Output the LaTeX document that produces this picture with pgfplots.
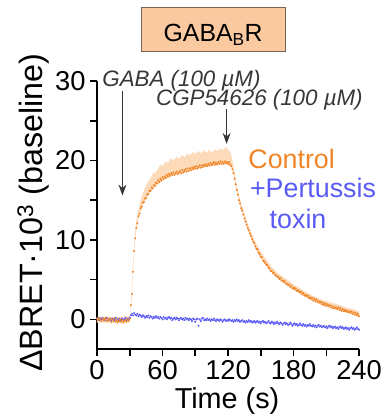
\documentclass[border=0pt]{standalone}
\usepackage{fontspec}
\setmainfont{Liberation Sans}
\usepackage{pgfplots}
\usepackage{pgfplotstable}
\pgfplotsset{compat=1.18}
\usepgfplotslibrary{fillbetween}
\usetikzlibrary{arrows.meta}
\definecolor{orangec}{RGB}{241,133,38}
\definecolor{bluec}{RGB}{90,90,245}
\definecolor{bandc}{RGB}{252,218,186}
\definecolor{titlefill}{RGB}{250,201,160}
\definecolor{titleborder}{RGB}{120,100,85}
\definecolor{annot}{RGB}{55,55,55}
\pgfplotstableread{
t lo hi
0 -0.4 0.3
15 -0.4 0.3
30 -0.3 0.4
31 1.5 2.3
32 2.9 3.9
33 5.7 6.8
34 8.3 9.4
35 10.0 11.1
36 11.2 12.4
37 11.9 13.2
38 12.6 13.9
40 13.6 15.0
42 14.4 15.9
44 15.0 16.6
46 15.5 17.1
48 15.9 17.6
50 16.3 18.0
52 16.6 18.6
53 16.7 18.3
56 17.1 19.0
58 17.3 19.5
60 17.5 19.3
63 17.7 19.9
65 17.8 19.7
68 18.0 20.3
70 18.1 20.0
73 18.2 20.5
75 18.3 20.2
78 18.4 20.7
80 18.5 20.4
83 18.6 20.9
85 18.7 20.6
88 18.8 21.1
90 18.9 20.8
93 19.0 21.2
95 19.1 20.9
98 19.2 21.3
100 19.2 21.0
103 19.3 21.3
105 19.3 21.0
108 19.4 21.4
110 19.4 21.2
113 19.5 21.5
115 19.5 21.3
118 19.5 21.7
120 19.4 21.4
122 19.3 21.1
123 19.1 20.7
124 18.7 20.0
125 18.2 19.2
126 17.5 18.4
127 16.8 17.6
128 16.1 16.9
130 14.8 15.6
132 13.8 14.6
134 13.0 13.8
136 12.1 12.9
138 11.3 12.1
140 10.6 11.4
143 9.6 10.4
146 8.7 9.5
150 7.7 8.5
154 6.9 7.7
160 5.9 6.6
166 5.1 5.8
172 4.5 5.2
180 3.7 4.4
188 3.0 3.7
196 2.4 3.1
204 1.9 2.6
212 1.5 2.2
220 1.2 1.9
228 0.9 1.5
234 0.6 1.3
240 0.3 1.0
}\bandtable
\begin{document}
\begin{tikzpicture}
\begin{axis}[
  scale only axis, width=264pt, height=269.6pt,
  xmin=0, xmax=240, ymin=-3.7, ymax=30,
  axis x line*=bottom, axis y line*=left,
  axis line style={line width=1.8pt,-},
  xtick={0,60,120,180,240}, xticklabels={0,60,120,180,240},
  minor xtick={30,90,150,210},
  ytick={0,10,20,30}, yticklabels={0,10,20,30},
  minor ytick={5,15,25},
  tick align=outside, major tick length=7pt, minor tick length=7pt,
  every tick/.style={black, line width=1.6pt},
  tick label style={font=\fontsize{27.5}{30}\selectfont},
  xticklabel style={yshift=-1pt},
  yticklabel style={xshift=-1pt},
  clip=false,
]
\addplot[name path=hi, draw=none] table[x=t, y=hi] {\bandtable};
\addplot[name path=lo, draw=none] table[x=t, y=lo] {\bandtable};
\addplot[bandc, draw=none] fill between[of=hi and lo];
% Pertussis toxin
\addplot[only marks, mark=*, mark size=0.8pt, color=bluec] coordinates {
(0,0.1)(1,0.2)(2,-0.1)(3,0.1)(4,0.0)(5,0.2)(6,0.0)(7,-0.1)(8,0.1)(9,0.2)
(10,-0.1)(11,0.0)(12,0.1)(13,-0.2)(14,0.1)(15,0.0)(16,-0.1)(17,0.2)(18,0.0)(19,-0.1)
(20,0.1)(21,-0.2)(22,0.0)(23,0.1)(24,-0.1)(25,0.0)(26,0.2)(27,-0.1)(28,0.1)(29,0.0)
(30,0.2)(31,0.5)(32,0.7)(33,0.5)(34,0.8)(35,0.6)(36,0.5)(37,0.7)(38,0.4)(39,0.6)
(40,0.5)(41,0.3)(42,0.5)(43,0.4)(44,0.2)(45,0.4)(46,0.3)(47,0.5)(48,0.2)(49,0.4)
(50,0.3)(51,0.1)(52,0.3)(53,0.2)(54,0.4)(55,0.2)(56,0.3)(57,0.1)(58,0.3)(59,0.2)
(60,0.0)(61,0.3)(62,0.1)(63,0.2)(64,0.0)(65,0.2)(66,0.3)(67,0.1)(68,0.2)(69,-0.1)
(70,0.1)(71,0.2)(72,0.0)(73,0.2)(74,0.1)(75,-0.1)(76,0.1)(77,0.2)(78,0.0)(79,0.1)
(80,-0.1)(81,0.2)(82,0.0)(83,0.1)(84,-0.1)(85,0.1)(86,0.0)(87,-0.2)(88,0.1)(89,0.0)
(90,-0.3)(91,0.0)(92,0.1)(93,-0.8)(94,0.0)(95,-0.2)(96,0.1)(97,0.2)(98,-0.1)(99,0.0)
(100,-0.1)(101,0.1)(102,-0.1)(103,0.0)(104,-0.2)(105,0.0)(106,-0.1)(107,0.1)(108,-0.1)(109,-0.2)
(110,0.0)(111,-0.1)(112,-0.2)(113,0.0)(114,-0.1)(115,-0.3)(116,-0.1)(117,0.0)(118,-0.2)(119,-0.1)
(120,-0.2)(121,0.0)(122,-0.1)(123,-0.2)(124,-0.1)(125,-0.3)(126,-0.1)(127,-0.2)(128,0.0)(129,-0.2)
(130,-0.1)(131,-0.3)(132,-0.2)(133,-0.1)(134,-0.3)(135,-0.2)(136,-0.4)(137,-0.2)(138,-0.3)(139,-0.1)
(140,-0.3)(141,-0.2)(142,-0.4)(143,-0.3)(144,-0.2)(145,-0.4)(146,-0.3)(147,-0.2)(148,-0.4)(149,-0.3)
(150,-0.5)(151,-0.3)(152,-0.2)(153,-0.4)(154,-0.3)(155,-0.5)(156,-0.4)(157,-0.2)(158,-0.4)(159,-0.5)
(160,-0.3)(161,-0.4)(162,-0.6)(163,-0.4)(164,-0.5)(165,-0.3)(166,-0.5)(167,-0.6)(168,-0.4)(169,-0.5)
(170,-0.7)(171,-0.5)(172,-0.4)(173,-0.6)(174,-0.5)(175,-0.7)(176,-0.6)(177,-0.4)(178,-0.6)(179,-0.8)
(180,-0.6)(181,-0.5)(182,-0.7)(183,-0.6)(184,-0.8)(185,-0.7)(186,-0.5)(187,-0.7)(188,-0.8)(189,-0.6)
(190,-0.8)(191,-0.7)(192,-0.9)(193,-0.7)(194,-0.8)(195,-0.6)(196,-0.8)(197,-0.9)(198,-0.7)(199,-0.9)
(200,-0.8)(201,-1.0)(202,-0.8)(203,-0.7)(204,-0.9)(205,-0.8)(206,-1.0)(207,-0.9)(208,-0.8)(209,-1.0)
(210,-0.9)(211,-1.1)(212,-0.9)(213,-0.8)(214,-1.0)(215,-0.9)(216,-1.1)(217,-1.0)(218,-0.9)(219,-1.1)
(220,-1.0)(221,-1.2)(222,-1.0)(223,-0.9)(224,-1.1)(225,-1.0)(226,-1.2)(227,-1.1)(228,-1.0)(229,-1.2)
(230,-1.1)(231,-1.3)(232,-1.1)(233,-1.0)(234,-1.2)(235,-1.1)(236,-1.3)(237,-1.2)(238,-1.0)(239,-1.2)
(240,-1.3)
};
% Control
\addplot[only marks, mark=*, mark size=0.8pt, color=orangec] coordinates {
(0,0.1)(1,-0.1)(2,0.2)(3,0.0)(4,-0.2)(5,0.1)(6,-0.1)(7,0.0)(8,0.2)(9,-0.2)
(10,0.0)(11,-0.1)(12,0.1)(13,-0.3)(14,0.0)(15,-0.2)(16,0.1)(17,-0.3)(18,-0.1)(19,-0.4)
(20,-0.2)(21,0.0)(22,-0.3)(23,-0.1)(24,-0.4)(25,-0.2)(26,-0.1)(27,-0.3)(28,0.0)(29,-0.2)
(30,0.1)(31,1.8)(32,3.2)(33,6.0)(34,8.6)(35,10.2)(36,11.5)(37,12.1)(38,13.0)(39,13.3)
(40,14.0)(41,14.2)(42,14.7)(43,14.8)(44,15.2)(45,15.3)(46,15.7)(47,15.8)(48,16.2)(49,16.2)
(50,16.6)(51,16.5)(52,16.9)(53,16.8)(54,17.2)(55,17.1)(56,17.5)(57,17.3)(58,17.7)(59,17.5)
(60,17.9)(61,17.7)(62,18.0)(63,17.8)(64,18.2)(65,18.0)(66,18.3)(67,18.1)(68,18.4)(69,18.2)
(70,18.5)(71,18.2)(72,18.4)(73,18.6)(74,18.3)(75,18.5)(76,18.7)(77,18.4)(78,18.8)(79,18.5)
(80,18.7)(81,18.9)(82,18.6)(83,19.0)(84,18.7)(85,19.0)(86,18.8)(87,19.1)(88,18.9)(89,19.2)
(90,19.0)(91,19.3)(92,19.0)(93,19.2)(94,19.4)(95,19.1)(96,19.4)(97,19.2)(98,19.5)(99,19.3)
(100,19.5)(101,19.3)(102,19.6)(103,19.4)(104,19.7)(105,19.4)(106,19.6)(107,19.8)(108,19.5)(109,19.7)
(110,19.5)(111,19.8)(112,19.6)(113,19.9)(114,19.6)(115,19.8)(116,19.6)(117,19.9)(118,19.7)(119,19.8)
(120,19.6)(121,19.8)(122,19.5)(123,19.3)(124,18.9)(125,18.4)(126,17.7)(127,17.0)(128,16.3)(129,15.7)
(130,15.0)(131,14.6)(132,14.0)(133,13.7)(134,13.2)(135,12.7)(136,12.3)(137,11.9)(138,11.5)(139,11.2)
(140,10.8)(141,10.5)(142,10.1)(143,9.8)(144,9.6)(145,9.2)(146,8.9)(147,8.8)(148,8.4)(149,8.2)
(150,7.9)(151,7.8)(152,7.4)(153,7.3)(154,7.1)(155,6.9)(156,6.8)(157,6.5)(158,6.4)(159,6.1)
(160,6.1)(161,5.8)(162,5.9)(163,5.6)(164,5.5)(165,5.4)(166,5.3)(167,5.1)(168,5.2)(169,4.9)
(170,4.9)(171,4.7)(172,4.8)(173,4.5)(174,4.5)(175,4.3)(176,4.4)(177,4.1)(178,4.2)(179,3.9)
(180,4.0)(181,3.8)(182,3.9)(183,3.6)(184,3.7)(185,3.5)(186,3.4)(187,3.5)(188,3.2)(189,3.3)
(190,3.0)(191,3.1)(192,2.9)(193,3.0)(194,2.7)(195,2.8)(196,2.6)(197,2.7)(198,2.4)(199,2.6)
(200,2.3)(201,2.5)(202,2.2)(203,2.3)(204,2.1)(205,2.2)(206,1.9)(207,2.1)(208,1.8)(209,2.0)
(210,1.7)(211,1.9)(212,1.7)(213,1.8)(214,1.5)(215,1.7)(216,1.4)(217,1.6)(218,1.4)(219,1.5)
(220,1.3)(221,1.5)(222,1.2)(223,1.4)(224,1.1)(225,1.3)(226,1.0)(227,1.2)(228,1.0)(229,1.1)
(230,0.9)(231,1.0)(232,0.8)(233,1.0)(234,0.7)(235,0.9)(236,0.6)(237,0.8)(238,0.5)(239,0.7)
(240,0.4)
};
\node[anchor=base west, inner sep=0pt, text=annot, font=\itshape\fontsize{22.5}{26}\selectfont] at (axis cs:4.8,29.3) {GABA (100 µM)};
\node[anchor=base west, inner sep=0pt, text=annot, font=\itshape\fontsize{22.5}{26}\selectfont] at (axis cs:54,26.9) {CGP54626 (100 µM)};
\draw[annot, line width=1pt, -{Stealth[length=11pt,width=8pt]}] (axis cs:23.3,28.7) -- (axis cs:23.3,15.6);
\draw[annot, line width=1pt, -{Stealth[length=11pt,width=8pt]}] (axis cs:118.7,26.5) -- (axis cs:118.7,22.1);
\node[anchor=base west, inner sep=0pt, text=orangec, font=\fontsize{27}{30}\selectfont] at (axis cs:138.5,18.96) {Control};
\node[anchor=base west, inner sep=0pt, text=bluec, font=\fontsize{27}{30}\selectfont] at (axis cs:140,15.4) {+Pertussis};
\node[anchor=base west, inner sep=0pt, text=bluec, font=\fontsize{27}{30}\selectfont] at (axis cs:158,11.5) {toxin};
\end{axis}
\node[rotate=90, font=\fontsize{32.5}{36}\selectfont] at (-64.4pt,137pt) {ΔBRET·10\textsuperscript{3} (baseline)};
\node[anchor=base, font=\fontsize{29}{33}\selectfont] at (131pt,-60.4pt) {Time (s)};
\draw[fill=titlefill, draw=titleborder, line width=0.8pt] (44.3pt,299.3pt) rectangle (189.3pt,344.3pt);
\node[anchor=base, font=\fontsize{25}{28}\selectfont] at (117pt,309.6pt) {GABA\textsubscript{B}R};
\path (-97.7pt,-66.7pt) rectangle (289.3pt,351.3pt);
\end{tikzpicture}
\end{document}
